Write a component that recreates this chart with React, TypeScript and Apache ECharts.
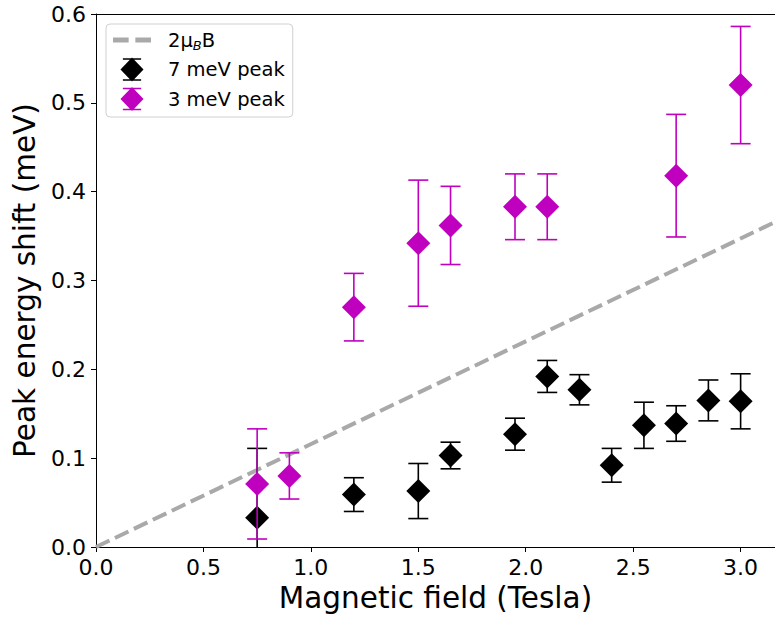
import React, { useEffect, useRef } from "react";
import * as echarts from "echarts";

// ---- data ----
const x7 = [0.75, 1.2, 1.5, 1.65, 1.95, 2.1, 2.25, 2.4, 2.55, 2.7, 2.85, 3.0];
const y7 = [0.033, 0.059, 0.063, 0.103, 0.127, 0.192, 0.177, 0.092, 0.137, 0.139, 0.165, 0.164];
const e7 = [0.078, 0.019, 0.031, 0.015, 0.018, 0.018, 0.017, 0.019, 0.026, 0.02, 0.023, 0.031];

const x3 = [0.75, 0.9, 1.2, 1.5, 1.65, 1.95, 2.1, 2.7, 3.0];
const y3 = [0.071, 0.08, 0.27, 0.342, 0.362, 0.383, 0.383, 0.418, 0.52];
const e3 = [0.062, 0.026, 0.038, 0.071, 0.044, 0.037, 0.037, 0.069, 0.066];

const MU_B = 0.05788; // meV/T
const X_MIN = 0;
const X_MAX = 3.16;
const Y_MIN = 0;
const Y_MAX = 0.6;
const xTickLabels = ["0.0", "0.5", "1.0", "1.5", "2.0", "2.5", "3.0"];
const yTickLabels = ["0.0", "0.1", "0.2", "0.3", "0.4", "0.5", "0.6"];

const NAME_LINE = "2μB";
const NAME_7 = "7 meV peak";
const NAME_3 = "3 meV peak";

const BLACK = "#000000";
const MAGENTA = "#bf00bf";
const GRAY = "#a9a9a9";
const FONT = "DejaVu Sans";

const errIcon =
  "path://M12 0 L24 12.5 L12 25 L0 12.5 Z M2.5 0.8 L21.5 0.8 L21.5 2.3 L2.5 2.3 Z M2.5 22.7 L21.5 22.7 L21.5 24.2 L2.5 24.2 Z";
const dashIcon = "path://M0 0 L14 0 L14 4.5 L0 4.5 Z M20 0 L34 0 L34 4.5 L20 4.5 Z";

function errorBarSeries(xs: number[], ys: number[], es: number[], color: string) {
  return {
    type: "custom",
    clip: true,
    silent: true,
    encode: { x: 0, y: 1 },
    data: xs.map((x, i) => [x, ys[i], es[i]]),
    renderItem: (params: any, api: any) => {
      const x = api.value(0);
      const y = api.value(1);
      const e = api.value(2);
      const hiV = Math.min(y + e, Y_MAX);
      const loV = Math.max(y - e, Y_MIN);
      const top = api.coord([x, hiV]);
      const bot = api.coord([x, loV]);
      const hw = 10;
      const style = { stroke: color, lineWidth: 1.6, fill: "none" };
      const children: any[] = [
        { type: "line", shape: { x1: top[0], y1: top[1], x2: bot[0], y2: bot[1] }, style },
      ];
      if (y + e <= Y_MAX)
        children.push({ type: "line", shape: { x1: top[0] - hw, y1: top[1], x2: top[0] + hw, y2: top[1] }, style });
      if (y - e >= Y_MIN)
        children.push({ type: "line", shape: { x1: bot[0] - hw, y1: bot[1], x2: bot[0] + hw, y2: bot[1] }, style });
      return { type: "group", children };
    },
  };
}

export default function App() {
  const ref = useRef<HTMLDivElement>(null);

  useEffect(() => {
    if (!ref.current) return;
    const chart = echarts.init(ref.current, null, { renderer: "svg" });

    const err7: any = errorBarSeries(x7, y7, e7, BLACK);
    err7.z = 3;
    const err3: any = errorBarSeries(x3, y3, e3, MAGENTA);
    err3.z = 5;

    const option: any = {
      animation: false,
      textStyle: { fontFamily: FONT },
      grid: { left: 96, top: 14, right: 0, bottom: 68.5, containLabel: false },
      legend: {
        left: 106,
        top: 24,
        orient: "vertical",
        itemWidth: 38,
        itemHeight: 24,
        itemGap: 5.5,
        padding: [4, 8, 6, 7],
        backgroundColor: "#ffffff",
        borderColor: "#d0d0d0",
        borderWidth: 1,
        borderRadius: 4,
        data: [
          { name: NAME_LINE, icon: dashIcon },
          { name: NAME_7, icon: errIcon },
          { name: NAME_3, icon: errIcon },
        ],
        formatter: (name: string) => (name === NAME_LINE ? "2μ{sub|B}B" : name),
        textStyle: {
          fontFamily: FONT,
          fontSize: 19.5,
          lineHeight: 24,
          color: "#000",
          padding: [0, 0, 0, 12],
          rich: {
            sub: {
              fontFamily: FONT,
              fontSize: 13,
              fontStyle: "italic",
              lineHeight: 13,
              verticalAlign: "bottom",
              color: "#000",
            },
          },
        },
      },
      xAxis: [
        {
          type: "value",
          min: X_MIN,
          max: X_MAX,
          interval: 0.5,
          name: "Magnetic field (Tesla)",
          nameLocation: "middle",
          nameGap: 36,
          nameTextStyle: { fontFamily: FONT, fontSize: 29.5, color: "#000" },
          axisLine: { show: true, onZero: false, lineStyle: { color: "#000", width: 1 } },
          axisTick: { show: true, inside: false, length: 5, lineStyle: { color: "#000", width: 1 } },
          axisLabel: {
            show: true,
            margin: 9,
            fontFamily: FONT,
            fontSize: 22,
            color: "#000",
            showMaxLabel: false,
            formatter: (v: number) => {
              const idx = Math.round(v / 0.5);
              return Math.abs(idx * 0.5 - v) < 1e-6 && xTickLabels[idx] ? xTickLabels[idx] : "";
            },
          },
          splitLine: { show: false },
        },
        {
          type: "value",
          position: "top",
          min: X_MIN,
          max: X_MAX,
          axisLine: { show: true, onZero: false, lineStyle: { color: "#000", width: 1 } },
          axisTick: { show: false },
          axisLabel: { show: false },
          splitLine: { show: false },
        },
      ],
      yAxis: {
        type: "value",
        min: Y_MIN,
        max: Y_MAX,
        interval: 0.1,
        name: "Peak energy shift (meV)",
        nameLocation: "middle",
        nameGap: 43,
        nameTextStyle: { fontFamily: FONT, fontSize: 29.5, color: "#000" },
        axisLine: { show: true, onZero: false, lineStyle: { color: "#000", width: 1 } },
        axisTick: { show: true, inside: false, length: 5, lineStyle: { color: "#000", width: 1 } },
        axisLabel: {
          margin: 10,
          fontFamily: FONT,
          fontSize: 22,
          color: "#000",
          formatter: (v: number) => {
            const idx = Math.round(v / 0.1);
            return yTickLabels[idx] ?? "";
          },
        },
        splitLine: { show: false },
      },
      series: [
        {
          name: NAME_LINE,
          type: "line",
          symbol: "none",
          data: [
            [X_MIN, 2 * MU_B * X_MIN],
            [X_MAX, 2 * MU_B * X_MAX],
          ],
          lineStyle: { color: GRAY, width: 4, type: [15, 6] },
          itemStyle: { color: GRAY },
          z: 1,
        },
        err7,
        {
          name: NAME_7,
          type: "scatter",
          symbol: "diamond",
          symbolSize: 24,
          itemStyle: { color: BLACK, opacity: 1 },
          data: x7.map((x, i) => [x, y7[i]]),
          z: 4,
        },
        err3,
        {
          name: NAME_3,
          type: "scatter",
          symbol: "diamond",
          symbolSize: 24,
          itemStyle: { color: MAGENTA, opacity: 1 },
          data: x3.map((x, i) => [x, y3[i]]),
          z: 6,
        },
      ],
    };

    chart.setOption(option);
    return () => chart.dispose();
  }, []);

  return <div ref={ref} style={{ width: 775, height: 618, position: "absolute", left: 0, top: 0 }} />;
}
